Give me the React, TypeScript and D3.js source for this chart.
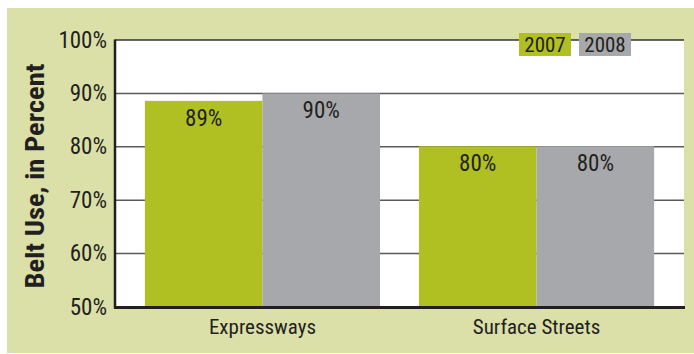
import React from "react";
import * as d3 from "d3";

const categories = ["Expressways", "Surface Streets"];
const seriesNames = ["2007", "2008"];
const values2007 = [88.6, 80.1];
const values2008 = [90.0, 80.1];
const valueLabels2007 = ["89%", "80%"];
const valueLabels2008 = ["90%", "80%"];
const yTicks = [50, 60, 70, 80, 90, 100];

const W = 694;
const H = 354;
const colors = ["#b0bf21", "#a7a8ab"];
const FONT = "'Liberation Sans Narrow', 'Arial Narrow', 'Roboto Condensed', sans-serif";
const TEXT = "#231f20";

export default function App() {
  const left = 115, right = 684, top = 40, bottom = 307;
  const y = d3.scaleLinear().domain([50, 100]).range([bottom, top]);
  const x0 = d3.scaleBand<string>().domain(categories).range([left, right]).paddingInner(0.142).paddingOuter(0.109);
  const x1 = d3.scaleBand<string>().domain(seriesNames).range([0, x0.bandwidth()]);
  const series = [values2007, values2008];
  const labels = [valueLabels2007, valueLabels2008];

  return (
    <svg width={W} height={H} style={{ position: "absolute", left: 0, top: 0 }} fontFamily={FONT}>
      <rect x={7} y={8} width={W - 7} height={H - 8 - 1} fill="#dbdfa8" />
      <rect x={left} y={top} width={right - left} height={bottom - top} fill="#ffffff" />
      {yTicks.filter((t) => t > 50).map((t) => (
        <line key={t} x1={left} x2={right} y1={y(t)} y2={y(t)} stroke={t === 100 ? "#333" : "#5a5a5a"} strokeWidth={1.5} />
      ))}
      {categories.map((c, ci) =>
        seriesNames.map((s, si) => {
          const v = series[si][ci];
          const bx = (x0(c) as number) + (x1(s) as number);
          return (
            <g key={c + s}>
              <rect x={bx} y={y(v)} width={x1.bandwidth()} height={bottom - y(v)} fill={colors[si]} />
              <text x={bx + x1.bandwidth() / 2} y={y(v) + 25} textAnchor="middle" fontSize={23} fill={TEXT}>
                {labels[si][ci]}
              </text>
            </g>
          );
        })
      )}
      <line x1={left} x2={left} y1={top - 0.5} y2={bottom + 1.5} stroke={TEXT} strokeWidth={2.5} />
      <line x1={left - 1} x2={right + 1} y1={bottom + 0.5} y2={bottom + 0.5} stroke={TEXT} strokeWidth={3} />
      {yTicks.map((t) => (
        <text key={t} x={107} y={y(t)} dy="0.33em" textAnchor="end" fontSize={23} fill={TEXT}>
          {t}%
        </text>
      ))}
      {categories.map((c) => (
        <text key={c} x={(x0(c) as number) + x0.bandwidth() / 2} y={334} textAnchor="middle" fontSize={21} fill={TEXT}>
          {c}
        </text>
      ))}
      <text transform="translate(44,176) rotate(-90)" textAnchor="middle" fontSize={25} fontWeight="bold" fill={TEXT}
        textLength={225} lengthAdjust="spacingAndGlyphs">
        Belt Use, in Percent
      </text>
      {seriesNames.map((s, i) => (
        <g key={s}>
          <rect x={519 + i * 60} y={33} width={52} height={23} fill={colors[i]} />
          <text x={545 + i * 60} y={52} textAnchor="middle" fontSize={21} fill={TEXT}>
            {s}
          </text>
        </g>
      ))}
    </svg>
  );
}
